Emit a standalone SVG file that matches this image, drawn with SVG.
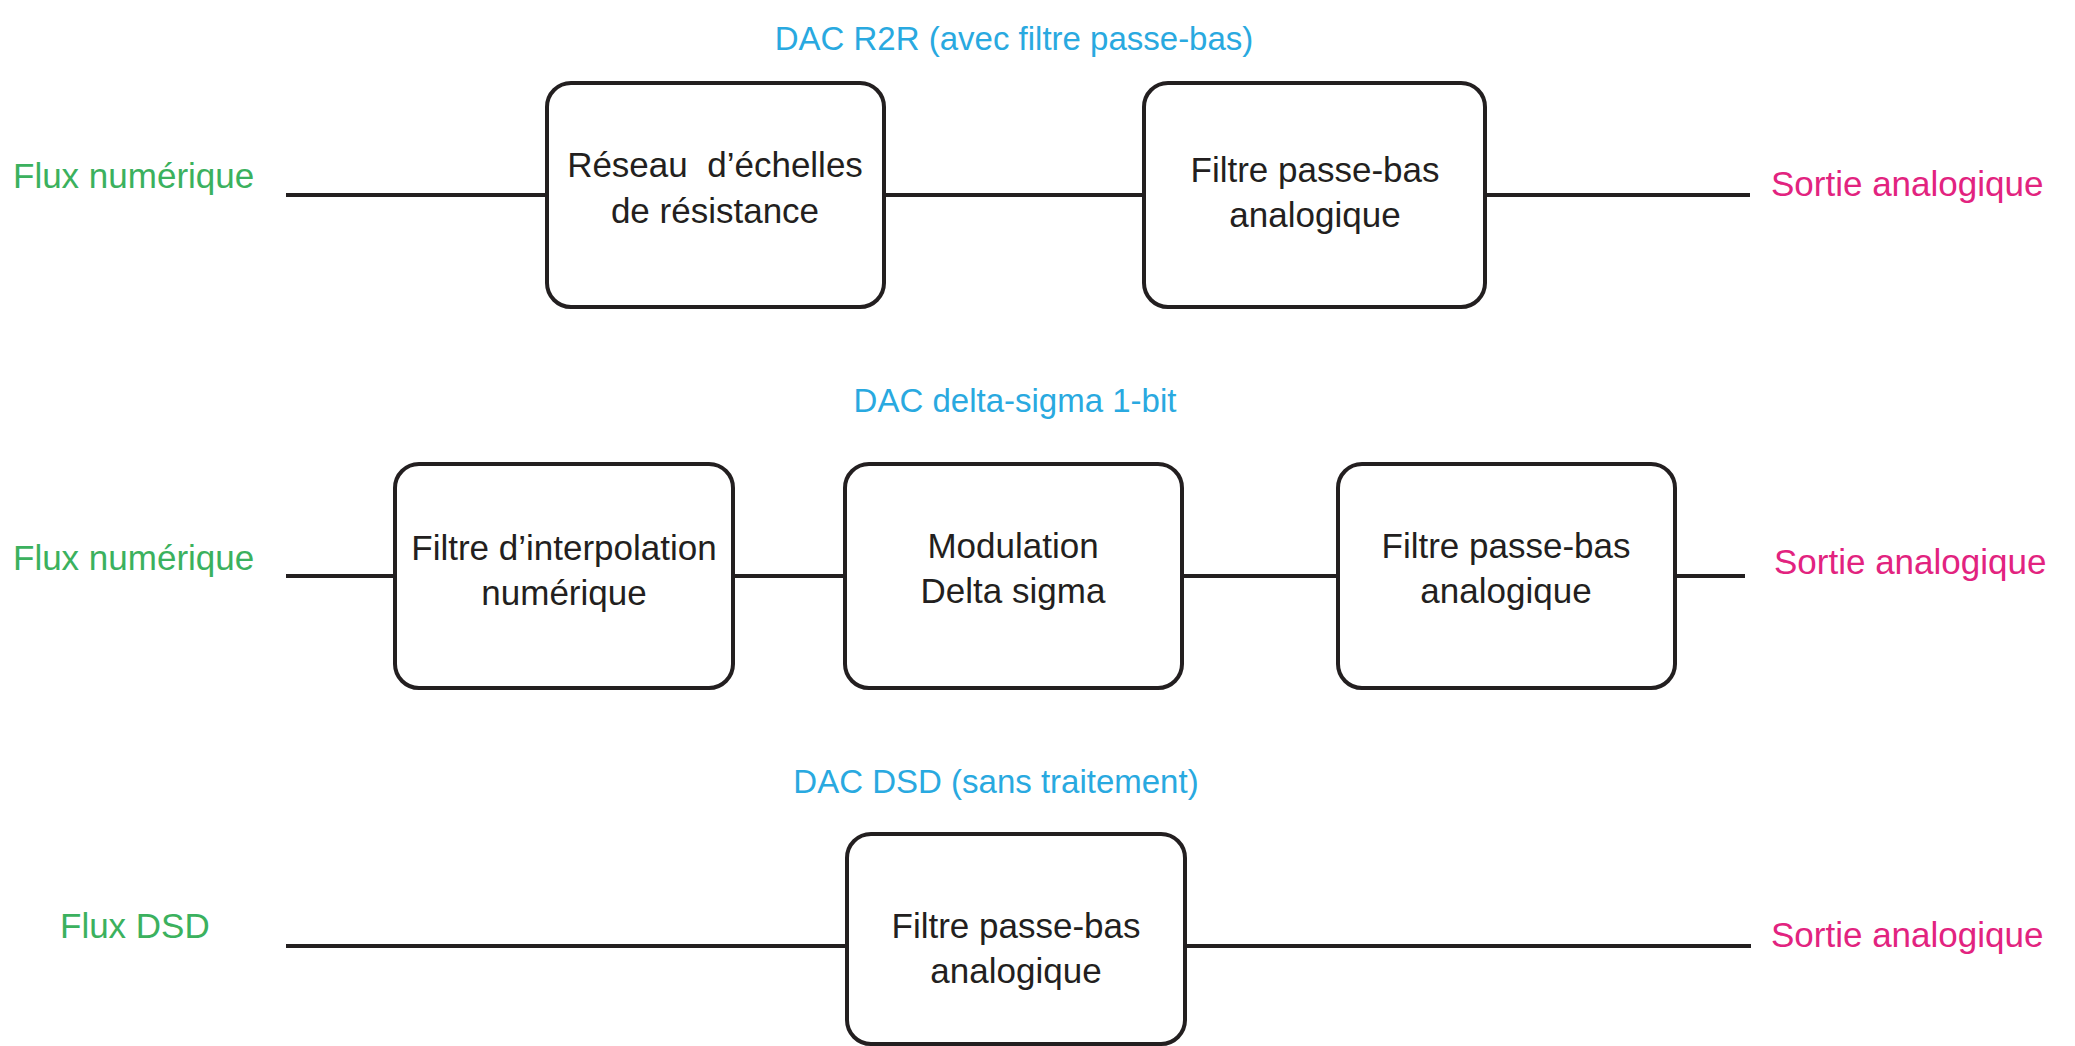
<svg xmlns="http://www.w3.org/2000/svg" width="2075" height="1046" viewBox="0 0 2075 1046">
<style>
.box{fill:#fff;stroke:#231f20;stroke-width:4}
.wire{stroke:#231f20;stroke-width:4;fill:none}
.t{font-family:"Liberation Sans",Arial,sans-serif;font-size:35px;fill:#231f20;text-anchor:middle}
.title{font-family:"Liberation Sans",Arial,sans-serif;font-size:33px;fill:#29a9e0;text-anchor:middle}
.in{font-family:"Liberation Sans",Arial,sans-serif;font-size:35px;fill:#3bb15e}
.out{font-family:"Liberation Sans",Arial,sans-serif;font-size:35px;fill:#e2237f}
</style>
<rect width="2075" height="1046" fill="#fff"/>
<g id="connectors">
<line class="wire" x1="286" y1="195" x2="547" y2="195"/>
<line class="wire" x1="884" y1="195" x2="1144" y2="195"/>
<line class="wire" x1="1485" y1="195" x2="1750" y2="195"/>
<line class="wire" x1="286" y1="576" x2="395" y2="576"/>
<line class="wire" x1="733" y1="576" x2="845" y2="576"/>
<line class="wire" x1="1182" y1="576" x2="1338" y2="576"/>
<line class="wire" x1="1675" y1="576" x2="1745" y2="576"/>
<line class="wire" x1="286" y1="946" x2="847" y2="946"/>
<line class="wire" x1="1185" y1="946" x2="1751" y2="946"/>
</g>
<g id="titles">
<text class="title" x="1014" y="50">DAC R2R (avec filtre passe-bas)</text>
<text class="title" x="1015" y="412">DAC delta-sigma 1-bit</text>
<text class="title" x="996" y="793">DAC DSD (sans traitement)</text>
</g>
<g id="labels">
<text class="in" x="13" y="188">Flux numérique</text>
<text class="out" x="1771" y="196">Sortie analogique</text>
<text class="in" x="13" y="570">Flux numérique</text>
<text class="out" x="1774" y="574">Sortie analogique</text>
<text class="in" x="60" y="938">Flux DSD</text>
<text class="out" x="1771" y="947">Sortie analogique</text>
</g>
<g id="r2r-ladder">
<rect class="box" x="547" y="83" width="337" height="224" rx="24"/>
<text class="t" x="715" y="177" xml:space="preserve">Réseau  d’échelles</text>
<text class="t" x="715" y="223">de résistance</text>
</g>
<g id="r2r-filter">
<rect class="box" x="1144" y="83" width="341" height="224" rx="24"/>
<text class="t" x="1315" y="182">Filtre passe-bas</text>
<text class="t" x="1315" y="227">analogique</text>
</g>
<g id="ds-interp">
<rect class="box" x="395" y="464" width="338" height="224" rx="24"/>
<text class="t" x="564" y="560">Filtre d’interpolation</text>
<text class="t" x="564" y="605">numérique</text>
</g>
<g id="ds-modulation">
<rect class="box" x="845" y="464" width="337" height="224" rx="24"/>
<text class="t" x="1013" y="558">Modulation</text>
<text class="t" x="1013" y="603">Delta sigma</text>
</g>
<g id="ds-filter">
<rect class="box" x="1338" y="464" width="337" height="224" rx="24"/>
<text class="t" x="1506" y="558">Filtre passe-bas</text>
<text class="t" x="1506" y="603">analogique</text>
</g>
<g id="dsd-filter">
<rect class="box" x="847" y="834" width="338" height="210" rx="24"/>
<text class="t" x="1016" y="938">Filtre passe-bas</text>
<text class="t" x="1016" y="983">analogique</text>
</g>
</svg>
